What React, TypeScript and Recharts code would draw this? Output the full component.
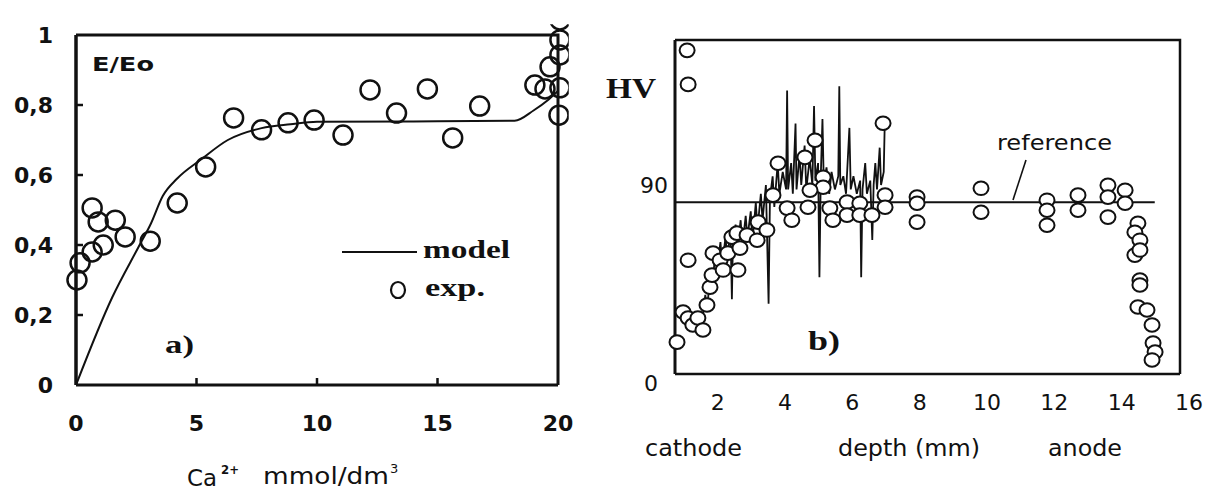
import React from "react";
import { ComposedChart, Line, Scatter, XAxis, YAxis } from "recharts";

const ink = "#111";

// ---- a) E/Eo vs Ca2+ ----
const caDomain = [0, 20];
const eDomain = [0, 1];
const caTicks = [0, 5, 10, 15, 20];
const eTicks = [0, 0.2, 0.4, 0.6, 0.8, 1];

const modelCa = [0, 1.5, 2.6, 3.1, 3.6, 4.2, 5.2, 6.3, 7.7, 8.9, 10, 14, 18.2, 19.0, 19.6, 20];
const modelE = [0, 0.25, 0.395, 0.46, 0.54, 0.59, 0.645, 0.7, 0.734, 0.745, 0.752, 0.753, 0.755, 0.785, 0.815, 0.84];

const expCa = [0.04, 0.17, 0.67, 1.13, 0.67, 0.92, 1.63, 2.04, 3.08, 4.2, 5.38, 6.54, 7.7, 8.8, 9.88, 11.08, 12.2, 13.3, 14.58, 15.63, 16.75, 19.04, 19.46, 19.67, 20.04, 20.08, 20.08, 20.08, 20.08];
const expE = [0.3, 0.349, 0.38, 0.4, 0.506, 0.466, 0.471, 0.423, 0.411, 0.52, 0.623, 0.763, 0.729, 0.749, 0.757, 0.714, 0.843, 0.777, 0.846, 0.706, 0.797, 0.857, 0.846, 0.909, 0.771, 0.849, 0.943, 0.986, 1.043];

// ---- b) HV vs depth ----
const depthDomain = [1, 16];
const hvDomain = [0, 152];
const depthTicks = [2, 4, 6, 8, 10, 12, 14, 16];
const hvTicks = [0, 90];

const hvDepth = [1.36, 1.39, 1.39, 1.06, 1.24, 1.39, 1.53, 1.68, 1.83, 1.95, 2.04, 2.1, 2.13, 2.34, 2.43, 2.57, 2.69, 2.84, 2.93, 2.87, 3.14, 3.44, 3.47, 3.73, 3.91, 4.33, 4.47, 4.06, 4.86, 5.16, 5.4, 5.4, 5.01, 4.95, 5.6, 5.69, 6.11, 6.11, 6.49, 6.49, 6.85, 7.24, 7.24, 7.18, 8.19, 8.19, 8.19, 10.09, 10.09, 12.05, 12.05, 12.05, 12.97, 12.97, 13.86, 13.86, 13.86, 14.37, 14.37, 14.75, 14.66, 14.81, 14.66, 14.81, 14.81, 14.81, 14.75, 15.02, 15.17, 15.2, 15.26, 15.17];
const hvValue = [147.3, 131.8, 51.8, 14.5, 28.2, 25.5, 22.3, 25.5, 20.0, 31.4, 39.5, 45.0, 55.0, 51.8, 47.3, 55.0, 62.3, 64.1, 57.3, 47.3, 63.2, 60.9, 69.1, 65.5, 81.4, 75.5, 70.0, 95.9, 98.6, 106.4, 89.5, 85.0, 83.6, 75.9, 75.5, 70.0, 78.2, 72.3, 77.7, 72.3, 72.3, 81.4, 75.9, 114.1, 80.5, 77.7, 69.1, 84.5, 73.6, 79.1, 74.5, 67.7, 81.4, 74.5, 85.9, 80.5, 71.4, 83.6, 77.7, 68.6, 64.5, 60.9, 54.1, 56.4, 42.7, 40.5, 30.5, 29.1, 22.3, 14.1, 10.0, 6.4];

// spiky trace of the single indentations
const traceDepth = [1.83, 1.9, 1.95, 2.05, 2.1, 2.2, 2.25, 2.35, 2.4, 2.5, 2.55, 2.65, 2.69, 2.72, 2.8, 2.85, 2.95, 3.0, 3.1, 3.15, 3.25, 3.3, 3.4, 3.45, 3.55, 3.6, 3.7, 3.78, 3.82, 3.9, 3.95, 4.05, 4.1, 4.2, 4.3, 4.33, 4.36, 4.45, 4.5, 4.58, 4.61, 4.7, 4.75, 4.85, 4.9, 5.0, 5.08, 5.13, 5.17, 5.25, 5.29, 5.33, 5.38, 5.42, 5.5, 5.58, 5.65, 5.75, 5.85, 5.88, 5.91, 6.0, 6.08, 6.18, 6.22, 6.3, 6.4, 6.5, 6.53, 6.57, 6.65, 6.7, 6.8, 6.86, 6.9, 6.95, 7.0, 7.08, 7.12, 7.2, 7.23];
const traceHv = [27, 36, 30, 44, 38, 56, 48, 60, 50, 62, 54, 64, 34, 60, 68, 56, 70, 58, 72, 62, 74, 60, 78, 66, 82, 70, 86, 32, 80, 90, 76, 96, 82, 92, 84, 129, 84, 96, 82, 114, 84, 100, 86, 104, 84, 98, 86, 122, 88, 96, 44, 90, 116, 86, 94, 82, 92, 84, 90, 131, 86, 90, 82, 112, 84, 90, 82, 88, 44, 84, 96, 82, 88, 61, 86, 96, 84, 103, 86, 92, 114];

const referenceDepth = [1, 15.25];
const referenceHv = [78.2, 78.2];

const rows = (xs: number[], ys: number[]) => xs.map((x, i) => ({ x, y: ys[i] }));

function CaTick({ x, y, payload }: any) {
  const v = payload.value;
  return (
    <g>
      {v > 0 && v < 20 && <line x1={x} x2={x} y1={y} y2={y - 7} stroke={ink} strokeWidth={2.5} />}
      <text x={x} y={y + 46} textAnchor="middle" fontFamily="DejaVu Sans" fontWeight="bold" fontSize={22} fill={ink}>{v}</text>
    </g>
  );
}

function ETick({ x, y, payload }: any) {
  const v = payload.value;
  const label = v === 0 || v === 1 ? String(v) : v.toFixed(1).replace(".", ",");
  return (
    <g>
      {v > 0 && v < 1 && <line x1={x} x2={x + 7} y1={y} y2={y} stroke={ink} strokeWidth={2.5} />}
      <text x={x - 23} y={y + 8} textAnchor="end" fontFamily="DejaVu Sans" fontWeight="bold" fontSize={22} fill={ink}>{label}</text>
    </g>
  );
}

function DepthTick({ x, y, payload }: any) {
  return (
    <text x={x + 9} y={y + 36} textAnchor="middle" fontFamily="DejaVu Sans" fontSize={22} fill={ink}>{payload.value}</text>
  );
}

function HvTick({ x, y, payload }: any) {
  const v = payload.value;
  return (
    <text x={v === 0 ? x - 17 : x - 7} y={y + 17} textAnchor="end" fontFamily="DejaVu Sans" fontSize={22} fill={ink}>{v}</text>
  );
}

const hvShape = (p: any) => (
  <ellipse cx={p.cx} cy={p.cy} rx={7.5} ry={6.8} fill="#fff" stroke={ink} strokeWidth={2} />
);

function PanelA() {
  return (
    <ComposedChart width={600} height={493} margin={{ top: 35, right: 42, bottom: 78, left: 16 }}>
      <XAxis type="number" dataKey="x" domain={caDomain} allowDataOverflow ticks={caTicks} interval={0}
        height={30} tickSize={0} tickMargin={0} tickLine={false} tick={CaTick}
        axisLine={{ stroke: ink, strokeWidth: 3 }} />
      <YAxis type="number" dataKey="y" domain={eDomain} allowDataOverflow ticks={eTicks} interval={0}
        width={60} tickSize={0} tickMargin={0} tickLine={false} tick={ETick}
        axisLine={{ stroke: ink, strokeWidth: 3.5 }} />
      <Line data={rows(modelCa, modelE)} dataKey="y" type="monotone" stroke={ink} strokeWidth={2}
        dot={false} activeDot={false} isAnimationActive={false} />
      <Line data={rows(expCa, expE)} dataKey="y" stroke="none" activeDot={false}
        dot={{ clipDot: false, r: 9.5, fill: "none", stroke: ink, strokeWidth: 2.5 }}
        isAnimationActive={false} />
    </ComposedChart>
  );
}

function PanelB() {
  return (
    <ComposedChart width={609} height={493} margin={{ top: 40, right: 29, bottom: 89, left: 15 }}>
      <XAxis type="number" dataKey="x" domain={depthDomain} ticks={depthTicks} interval={0}
        height={30} tickSize={0} tickMargin={0} tickLine={false} tick={DepthTick}
        axisLine={{ stroke: ink, strokeWidth: 2.5 }} />
      <YAxis type="number" dataKey="y" domain={hvDomain} ticks={hvTicks} interval={0}
        width={60} tickSize={0} tickMargin={0} tickLine={false} tick={HvTick}
        axisLine={{ stroke: ink, strokeWidth: 3 }} />
      <Line data={rows(referenceDepth, referenceHv)} dataKey="y" stroke={ink} strokeWidth={2}
        dot={false} activeDot={false} isAnimationActive={false} />
      <Line data={rows(traceDepth, traceHv)} dataKey="y" stroke={ink} strokeWidth={1.8}
        dot={false} activeDot={false} isAnimationActive={false} />
      <Scatter data={rows(hvDepth, hvValue)} dataKey="y" shape={hvShape} isAnimationActive={false} />
    </ComposedChart>
  );
}

const serif = "Liberation Serif";
const sans = "DejaVu Sans";

function Labels() {
  return (
    <svg width={1209} height={493} style={{ position: "absolute", left: 0, top: 0, pointerEvents: "none" }}>
      {/* panel a: top/right edges of the box */}
      <polyline points="76,35 558,35 558,385" fill="none" stroke={ink} strokeWidth={3} />
      <text x={92} y={71} fontFamily={sans} fontWeight="bold" fontSize={20} textLength={62} lengthAdjust="spacingAndGlyphs" fill={ink}>E/Eo</text>
      <line x1={342} x2={417} y1={252} y2={252} stroke={ink} strokeWidth={2} />
      <text x={423} y={258} fontFamily={serif} fontWeight="bold" fontSize={25} textLength={87} lengthAdjust="spacingAndGlyphs" fill={ink}>model</text>
      <ellipse cx={398} cy={290} rx={7} ry={8} fill="none" stroke={ink} strokeWidth={2.2} />
      <text x={425} y={296} fontFamily={serif} fontWeight="bold" fontSize={25} textLength={60} lengthAdjust="spacingAndGlyphs" fill={ink}>exp.</text>
      <text x={165} y={353} fontFamily={serif} fontWeight="bold" fontSize={26} textLength={29} lengthAdjust="spacingAndGlyphs" fill={ink}>a)</text>
      <text x={187} y={486} fontFamily={sans} fontSize={23} textLength={30} lengthAdjust="spacingAndGlyphs" fill={ink}>Ca</text>
      <text x={221} y={474} fontFamily={sans} fontWeight="bold" fontSize={13} textLength={18} lengthAdjust="spacingAndGlyphs" fill={ink}>2+</text>
      <text x={263} y={484} fontFamily={sans} fontSize={23} textLength={126} lengthAdjust="spacingAndGlyphs" fill={ink}>mmol/dm</text>
      <text x={390} y={473} fontFamily={sans} fontSize={13} fill={ink}>3</text>
      {/* panel b */}
      <polyline points="675,40 1180,40 1180,374" fill="none" stroke={ink} strokeWidth={2.5} />
      <text x={606} y={98} fontFamily={serif} fontWeight="bold" fontSize={30} textLength={50} lengthAdjust="spacingAndGlyphs" fill={ink}>HV</text>
      <text x={997} y={150} fontFamily={sans} fontSize={22} textLength={115} lengthAdjust="spacingAndGlyphs" fill={ink}>reference</text>
      <line x1={1026} y1={160} x2={1013} y2={200} stroke={ink} strokeWidth={1.6} />
      <text x={808} y={350} fontFamily={serif} fontWeight="bold" fontSize={28} textLength={32} lengthAdjust="spacingAndGlyphs" fill={ink}>b)</text>
      <text x={645} y={456} fontFamily={sans} fontSize={23} textLength={97} lengthAdjust="spacingAndGlyphs" fill={ink}>cathode</text>
      <text x={838} y={456} fontFamily={sans} fontSize={23} textLength={142} lengthAdjust="spacingAndGlyphs" fill={ink}>depth  (mm)</text>
      <text x={1048} y={456} fontFamily={sans} fontSize={23} textLength={74} lengthAdjust="spacingAndGlyphs" fill={ink}>anode</text>
    </svg>
  );
}

export default function App() {
  return (
    <div style={{ position: "absolute", left: 0, top: 0, width: 1209, height: 493, background: "#fff" }}>
      <div style={{ position: "absolute", left: 0, top: 0 }}>
        <PanelA />
      </div>
      <div style={{ position: "absolute", left: 600, top: 0 }}>
        <PanelB />
      </div>
      <Labels />
    </div>
  );
}
